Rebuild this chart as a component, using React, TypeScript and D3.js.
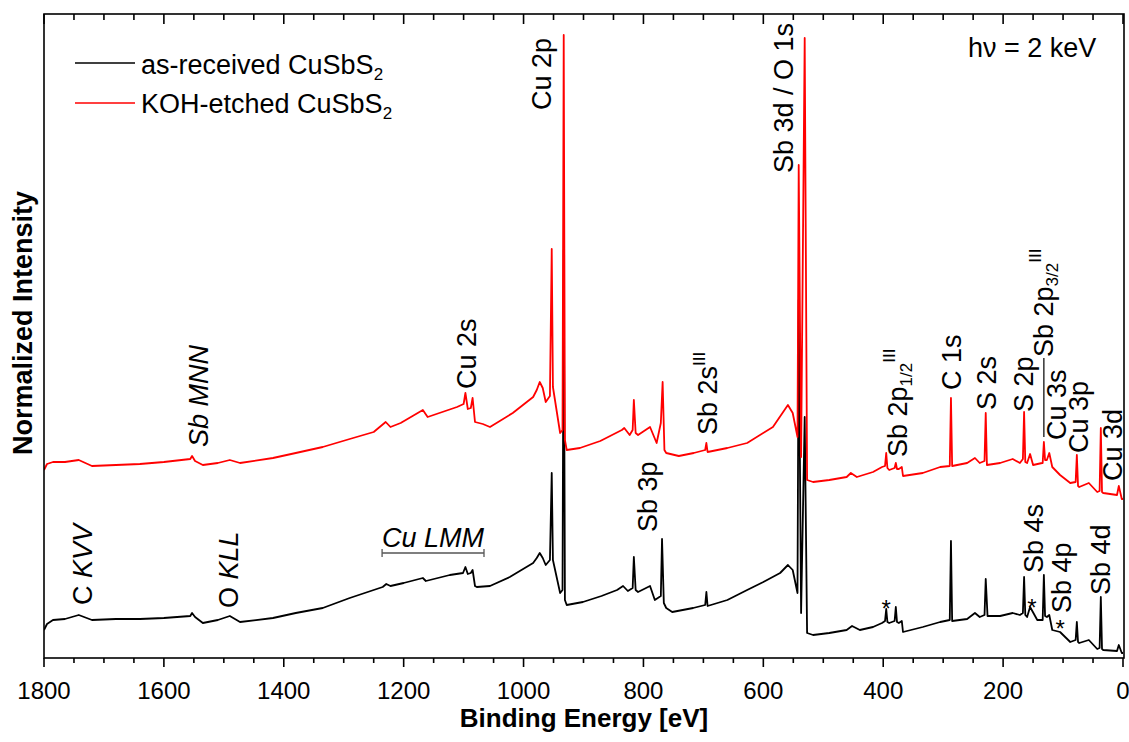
import * as d3 from "d3";

// spectra: [binding energy eV, normalized intensity]
const asReceived: [number, number][] = [
  [1800, 0.28], [1795, 0.34], [1785, 0.38], [1765, 0.39], [1742, 0.43], [1720, 0.38], [1680, 0.39],
  [1640, 0.39], [1600, 0.4], [1556, 0.42], [1553, 0.45], [1548, 0.41], [1535, 0.35], [1510, 0.38],
  [1490, 0.42], [1473, 0.36], [1418, 0.4], [1380, 0.45], [1335, 0.5], [1290, 0.6], [1235, 0.71],
  [1229, 0.74], [1222, 0.72], [1200, 0.75], [1168, 0.8], [1163, 0.77], [1123, 0.83], [1101, 0.85],
  [1097, 0.91], [1093, 0.84], [1088, 0.85], [1085, 0.88], [1081, 0.72], [1078, 0.71], [1056, 0.72],
  [1023, 0.81], [984, 0.95], [978, 1.0], [973, 1.05], [968, 1.0], [963, 0.93], [956, 0.98],
  [953, 1.85], [951, 0.98], [939, 0.65], [935, 0.68], [933, 4.08], [931, 0.58], [928, 0.53],
  [901, 0.56], [870, 0.62], [844, 0.68], [834, 0.72], [826, 0.67], [818, 0.7], [816, 1.01],
  [813, 0.68], [809, 0.66], [789, 0.72], [781, 0.58], [771, 0.62], [769, 1.19], [766, 0.55],
  [762, 0.5], [752, 0.46], [717, 0.5], [697, 0.53], [695, 0.66], [693, 0.52], [660, 0.58],
  [627, 0.68], [600, 0.76], [572, 0.85], [559, 0.93], [551, 0.88], [543, 0.65], [541, 3.58],
  [537, 0.45], [531, 2.41], [527, 0.25], [517, 0.23], [490, 0.25], [461, 0.28], [452, 0.32],
  [439, 0.28], [417, 0.31], [402, 0.35], [397, 0.37], [395, 0.49], [393, 0.36], [390, 0.35],
  [381, 0.37], [379, 0.51], [377, 0.36], [374, 0.35], [369, 0.37], [367, 0.26], [334, 0.31],
  [305, 0.36], [289, 0.38], [287, 1.17], [285, 0.37], [260, 0.39], [247, 0.45], [239, 0.41],
  [231, 0.43], [229, 0.79], [226, 0.42], [205, 0.42], [184, 0.45], [172, 0.43], [167, 0.45],
  [165, 0.81], [163, 0.43], [160, 0.41], [155, 0.51], [143, 0.38], [134, 0.38], [132, 0.83],
  [130, 0.42], [127, 0.41], [123, 0.43], [118, 0.28], [105, 0.26], [88, 0.16], [79, 0.18],
  [77, 0.36], [75, 0.16], [73, 0.15], [57, 0.18], [43, 0.09], [39, 0.1], [37, 0.61], [35, 0.09],
  [33, 0.08], [10, 0.07], [7, 0.13], [2, 0.05], [0, 0.05],
];

const kohEtched: [number, number][] = [
  [1800, 1.88], [1795, 1.94], [1785, 1.96], [1765, 1.96], [1742, 1.98], [1720, 1.92], [1680, 1.93],
  [1640, 1.94], [1600, 1.96], [1556, 1.99], [1553, 2.02], [1548, 1.97], [1535, 1.93], [1510, 1.95],
  [1490, 1.98], [1473, 1.95], [1418, 2.0], [1380, 2.05], [1335, 2.11], [1290, 2.19], [1250, 2.26],
  [1230, 2.36], [1222, 2.31], [1205, 2.35], [1168, 2.48], [1160, 2.41], [1111, 2.51], [1100, 2.54],
  [1097, 2.65], [1093, 2.49], [1088, 2.5], [1085, 2.6], [1081, 2.36], [1068, 2.34], [1056, 2.31],
  [1018, 2.45], [984, 2.61], [978, 2.68], [973, 2.76], [968, 2.7], [963, 2.56], [956, 2.62],
  [953, 4.09], [951, 2.71], [939, 2.25], [935, 2.28], [933, 6.23], [931, 2.18], [928, 2.08],
  [906, 2.1], [872, 2.17], [836, 2.28], [832, 2.3], [823, 2.23], [818, 2.28], [816, 2.58],
  [813, 2.25], [809, 2.23], [789, 2.31], [778, 2.15], [771, 2.35], [768, 2.76], [765, 2.08],
  [762, 2.05], [741, 2.02], [716, 2.05], [697, 2.08], [695, 2.15], [693, 2.06], [660, 2.1],
  [627, 2.15], [584, 2.31], [559, 2.53], [551, 2.45], [543, 2.21], [541, 4.93], [537, 2.01],
  [531, 6.2], [527, 1.78], [517, 1.76], [490, 1.78], [461, 1.81], [454, 1.85], [444, 1.81],
  [417, 1.86], [402, 1.91], [397, 1.92], [395, 2.05], [393, 1.9], [390, 1.88], [381, 1.9],
  [379, 1.95], [377, 1.89], [374, 1.89], [369, 1.91], [367, 1.82], [334, 1.85], [305, 1.91],
  [289, 1.92], [287, 2.6], [285, 1.92], [260, 1.95], [247, 2.0], [239, 1.95], [231, 1.97],
  [229, 2.45], [227, 1.93], [205, 1.95], [184, 1.99], [172, 1.95], [167, 1.99], [165, 2.46],
  [163, 1.96], [160, 1.95], [155, 2.04], [150, 1.93], [135, 1.95], [134, 1.95], [132, 2.16],
  [130, 1.98], [127, 1.98], [123, 2.05], [118, 1.91], [105, 1.83], [88, 1.75], [79, 1.76],
  [77, 2.03], [75, 1.72], [73, 1.71], [57, 1.75], [43, 1.66], [39, 1.67], [37, 2.3], [35, 1.66],
  [33, 1.65], [10, 1.63], [7, 1.72], [2, 1.59], [0, 1.59],
];

const energyTicks = [1800, 1600, 1400, 1200, 1000, 800, 600, 400, 200, 0];

const seriesNames = ["as-received CuSbS", "KOH-etched CuSbS"];
const seriesColors = ["#000000", "#ff0000"];

// peak labels: text parts, energy of the baseline, intensity where the text starts
type Part = [string, "n" | "i" | "sub" | "sup"];
const peakLabels: { E: number; I: number; parts: Part[] }[] = [
  { E: 954, I: 5.48, parts: [["Cu 2p", "n"]] },
  { E: 551, I: 4.85, parts: [["Sb 3d / O 1s", "n"]] },
  { E: 1080, I: 2.69, parts: [["Cu 2s", "n"]] },
  { E: 1527, I: 2.11, parts: [["Sb MNN", "i"]] },
  { E: 1720, I: 0.53, parts: [["C ", "n"], ["KVV", "i"]] },
  { E: 1477, I: 0.5, parts: [["O ", "n"], ["KLL", "i"]] },
  { E: 778, I: 1.26, parts: [["Sb 3p", "n"]] },
  { E: 677, I: 2.23, parts: [["Sb 2s", "n"], ["III", "sup"]] },
  { E: 360, I: 2.01, parts: [["Sb 2p", "n"], ["1/2", "sub"], ["III", "sup"]] },
  { E: 270, I: 2.68, parts: [["C 1s", "n"]] },
  { E: 212, I: 2.48, parts: [["S 2s", "n"]] },
  { E: 150, I: 2.46, parts: [["S 2p", "n"]] },
  { E: 117, I: 3.01, parts: [["Sb 2p", "n"], ["3/2", "sub"], ["III", "sup"]] },
  { E: 95, I: 2.18, parts: [["Cu 3s", "n"]] },
  { E: 58, I: 2.05, parts: [["Cu 3p", "n"]] },
  { E: 1, I: 1.77, parts: [["Cu 3d", "n"]] },
  { E: 133, I: 0.85, parts: [["Sb 4s", "n"]] },
  { E: 87, I: 0.45, parts: [["Sb 4p", "n"]] },
  { E: 22, I: 0.63, parts: [["Sb 4d", "n"]] },
];

const satellites: [number, number][] = [[395, 0.55], [152, 0.56], [105, 0.35]];

const W = 1129;
const H = 742;
const left = 44, right = 1124, top = 14, bottom = 658;
const font = "'Liberation Sans', Arial, sans-serif";
const FS = 27;
const FS_SMALL = 17;

const x = d3.scaleLinear().domain([1800, 0]).range([left, 1123]);
const y = d3.scaleLinear().domain([0, 6.44]).range([bottom, top]);

const line = d3
  .line<[number, number]>()
  .x((d) => x(d[0]))
  .y((d) => y(d[1]));

function Label({ E, I, parts }: { E: number; I: number; parts: Part[] }) {
  let shift = 0;
  return (
    <text
      transform={`translate(${x(E)},${y(I)}) rotate(-90)`}
      fontFamily={font}
      fontSize={FS}
    >
      {parts.map(([t, k], i) => {
        const target = k === "sub" ? 5 : k === "sup" ? -12 : 0;
        const dy = target - shift;
        shift = target;
        return (
          <tspan
            key={i}
            dy={dy}
            fontStyle={k === "i" ? "italic" : "normal"}
            fontSize={k === "sub" || k === "sup" ? FS_SMALL : FS}
          >
            {t}
          </tspan>
        );
      })}
    </text>
  );
}

export default function App() {
  const minor = d3.range(0, 1801, 50).filter((v) => v % 200 !== 0);
  return (
    <svg
      width={W}
      height={H}
      style={{ position: "absolute", left: 0, top: 0, background: "#fff" }}
    >
      <defs>
        <clipPath id="plot">
          <rect x={left} y={top} width={right - left} height={bottom - top} />
        </clipPath>
      </defs>

      <g clipPath="url(#plot)" fill="none" strokeWidth={1.8} strokeLinejoin="round">
        <path d={line(asReceived) || ""} stroke={seriesColors[0]} />
        <path d={line(kohEtched) || ""} stroke={seriesColors[1]} />
      </g>

      {/* frame */}
      <rect
        x={left}
        y={top}
        width={right - left}
        height={bottom - top}
        fill="none"
        stroke="#000"
        strokeWidth={1.6}
      />

      {/* ticks: outward at bottom, inward at top */}
      <g stroke="#000" strokeWidth={1.6}>
        {energyTicks.map((v) => (
          <g key={"M" + v}>
            <line x1={x(v)} x2={x(v)} y1={bottom} y2={bottom + 9} />
            <line x1={x(v)} x2={x(v)} y1={top} y2={top + 10} />
          </g>
        ))}
        {minor.map((v) => (
          <g key={"m" + v}>
            <line x1={x(v)} x2={x(v)} y1={bottom} y2={bottom + 5} />
            <line x1={x(v)} x2={x(v)} y1={top} y2={top + 6} />
          </g>
        ))}
      </g>
      <g fontFamily={font} fontSize={24} textAnchor="middle">
        {energyTicks.map((v) => (
          <text key={v} x={x(v)} y={699}>
            {v}
          </text>
        ))}
      </g>

      <text
        x={(left + right) / 2}
        y={727}
        textAnchor="middle"
        fontFamily={font}
        fontWeight="bold"
        fontSize={26}
      >
        Binding Energy [eV]
      </text>
      <text
        transform={`translate(32,455) rotate(-90)`}
        fontFamily={font}
        fontWeight="bold"
        fontSize={27}
      >
        Normalized Intensity
      </text>

      {/* legend */}
      {seriesNames.map((n, i) => (
        <g key={n}>
          <line
            x1={75}
            x2={135}
            y1={63 + i * 40}
            y2={63 + i * 40}
            stroke={seriesColors[i]}
            strokeWidth={1.6}
          />
          <text x={141} y={74 + i * 39} fontFamily={font} fontSize={FS}>
            {n}
            <tspan dy={6} fontSize={FS_SMALL}>2</tspan>
          </text>
        </g>
      ))}

      <text x={968} y={57} fontFamily={font} fontSize={FS}>
        hν = 2 keV
      </text>

      {peakLabels.map((l, i) => (
        <Label key={i} {...l} />
      ))}

      {/* separator between Sb 2p3/2 and Cu 3s */}
      <line x1={x(132)} x2={x(132)} y1={y(3.0)} y2={y(2.21)} stroke="#000" strokeWidth={1.2} />

      {/* Cu LMM range */}
      <text x={x(1236)} y={y(1.11)} fontFamily={font} fontSize={FS} fontStyle="italic">
        Cu LMM
      </text>
      <g stroke="#555" strokeWidth={1.3}>
        <line x1={x(1236)} x2={x(1066)} y1={y(1.05)} y2={y(1.05)} />
        <line x1={x(1236)} x2={x(1236)} y1={y(1.05) - 4} y2={y(1.05) + 4} />
        <line x1={x(1066)} x2={x(1066)} y1={y(1.05) - 4} y2={y(1.05) + 4} />
      </g>

      {satellites.map(([e, v], i) => (
        <text
          key={i}
          x={x(e)}
          y={y(v) + 14}
          textAnchor="middle"
          fontFamily={font}
          fontSize={24}
        >
          *
        </text>
      ))}
    </svg>
  );
}
